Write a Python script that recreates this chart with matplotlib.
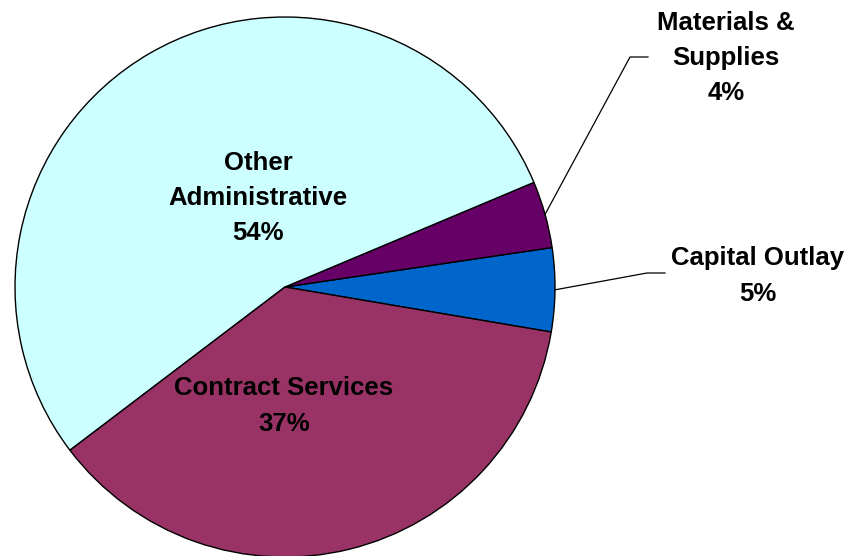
import numpy as np
import matplotlib.pyplot as plt

# Expense breakdown, percent of total
categories = ["Capital Outlay", "Materials &\nSupplies", "Other\nAdministrative", "Contract Services"]
shares = [5, 4, 54, 37]
colors = ["#0066CC", "#660066", "#CCFFFF", "#993366"]

W, H = 859, 556
fig = plt.figure(figsize=(W / 100, H / 100), dpi=100)
ax = fig.add_axes([0, 0, 1, 1])

cx, cy, r = 285, H - 287, 270
wedges, _ = ax.pie(shares, colors=colors, startangle=-9.6, counterclock=True,
                   center=(cx, cy), radius=r, frame=True,
                   wedgeprops=dict(edgecolor="black", linewidth=1.0))
ax.set_xlim(0, W)
ax.set_ylim(0, H)
ax.set_aspect("equal")
ax.axis("off")

font = dict(family="Liberation Sans", fontweight="bold", fontsize=18.5,
            ha="center", va="center", linespacing=1.58)

def mid_point(w):
    a = np.deg2rad((w.theta1 + w.theta2) / 2)
    return cx + r * np.cos(a), cy + r * np.sin(a)

# labels inside the two big slices
ax.text(258, H - 198, f"{categories[2]}\n{shares[2]}%", **font)
ax.text(284, H - 406, f"{categories[3]}\n{shares[3]}%", **font)

# outside labels with leader lines
x0, y0 = mid_point(wedges[1])
ax.plot([x0, 630, 648], [y0, H - 57, H - 57], color="black", lw=0.9)
ax.text(726, H - 58, f"{categories[1]}\n{shares[1]}%", **font)

x0, y0 = mid_point(wedges[0])
ax.plot([x0, 647, 665], [y0, H - 273, H - 273], color="black", lw=0.9)
ax.text(758, H - 276, f"{categories[0]}\n{shares[0]}%", **font)

fig.savefig("out.png", dpi=100)
